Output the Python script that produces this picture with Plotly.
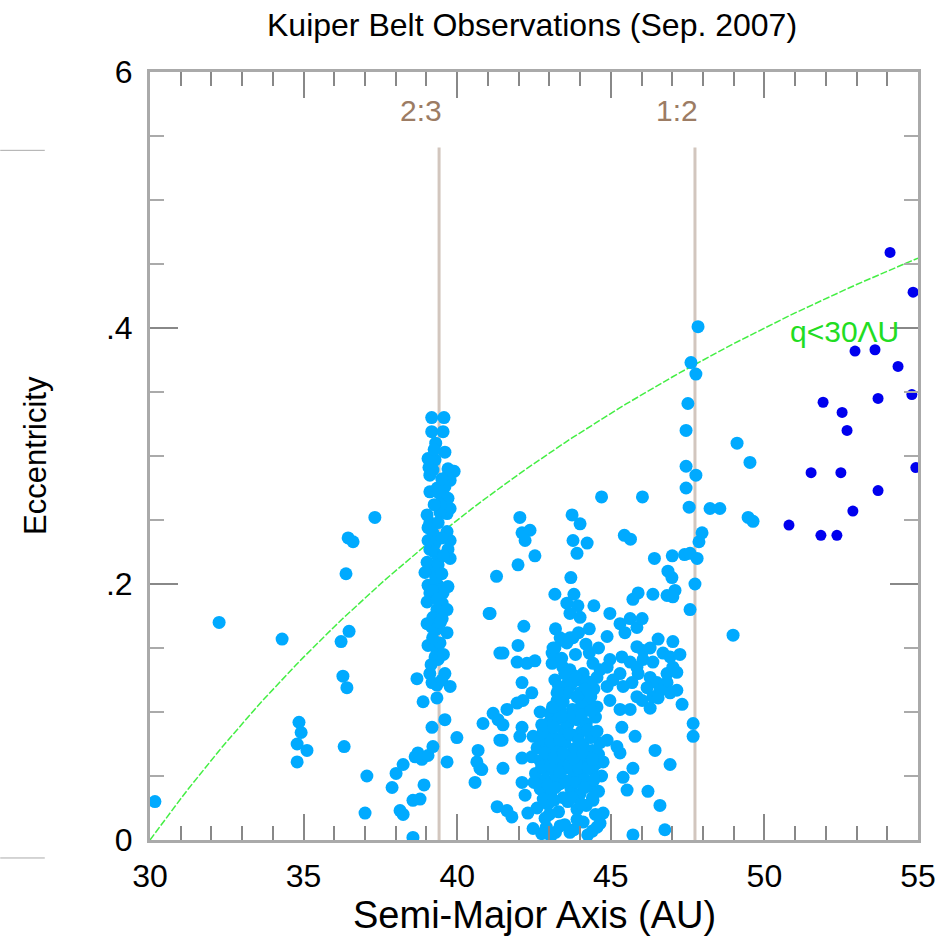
import plotly.graph_objects as go

# Kuiper belt objects: (semi-major axis [AU], eccentricity)
inner_belt = [
    (30.16, 0.030), (32.25, 0.170), (34.30, 0.157), (34.85, 0.092), (34.92, 0.084),
    (34.79, 0.075), (35.11, 0.070), (34.79, 0.061), (36.32, 0.073), (36.22, 0.155),
    (36.48, 0.163), (36.28, 0.128), (36.41, 0.119), (36.38, 0.208), (36.45, 0.236),
    (36.61, 0.233), (37.32, 0.252), (37.06, 0.050), (37.00, 0.021), (37.88, 0.041),
    (38.01, 0.052), (38.24, 0.059), (38.14, 0.023), (38.24, 0.020), (38.56, 0.031),
    (38.79, 0.032), (38.92, 0.043), (38.63, 0.065), (38.72, 0.068), (38.85, 0.063),
    (38.56, 0.002),
]

plutinos = [
    (39.05, 0.066), (39.21, 0.073), (39.18, 0.088), (38.69, 0.126), (38.89, 0.108),
    (39.34, 0.111), (39.60, 0.094), (39.67, 0.061), (39.17, 0.330), (39.57, 0.330),
    (39.17, 0.319), (39.54, 0.319), (39.60, 0.303), (39.05, 0.298), (39.28, 0.297),
    (39.08, 0.291), (39.21, 0.289), (39.11, 0.285), (39.70, 0.290), (39.90, 0.288),
    (39.67, 0.284), (39.77, 0.281), (39.60, 0.276), (39.11, 0.272), (39.41, 0.271),
    (39.70, 0.267), (39.77, 0.259), (39.67, 0.255), (39.44, 0.256), (39.02, 0.254),
    (39.11, 0.248), (39.38, 0.248), (39.05, 0.244), (39.21, 0.240), (39.67, 0.241),
    (39.77, 0.234), (39.05, 0.234), (39.28, 0.232), (39.70, 0.227), (39.11, 0.227),
    (39.77, 0.220), (39.38, 0.221), (39.02, 0.217), (39.11, 0.211), (38.95, 0.209),
    (39.38, 0.215), (39.05, 0.199), (39.38, 0.199), (39.70, 0.198), (39.11, 0.193),
    (39.54, 0.193), (39.02, 0.186), (39.51, 0.185), (39.34, 0.180), (39.67, 0.180),
    (39.21, 0.174), (39.51, 0.173), (39.02, 0.169), (39.18, 0.166), (39.34, 0.165),
    (39.67, 0.162), (39.05, 0.152), (39.28, 0.151), (39.44, 0.154), (39.28, 0.143),
    (39.38, 0.141), (39.11, 0.130), (39.60, 0.130), (39.18, 0.123), (39.77, 0.120),
    (39.34, 0.121), (39.99, 0.080), (39.30, 0.310), (39.45, 0.262), (39.25, 0.262),
    (39.50, 0.236), (39.30, 0.205), (39.50, 0.208), (39.20, 0.195), (39.45, 0.170),
    (39.20, 0.158), (39.55, 0.145), (39.15, 0.137), (39.50, 0.125), (39.35, 0.275),
    (39.50, 0.282), (39.25, 0.225), (39.55, 0.222), (39.35, 0.188), (39.25, 0.305),
]

mid_belt = [
    (41.28, 0.206), (41.07, 0.177), (41.39, 0.146), (41.17, 0.099), (40.84, 0.091),
    (41.39, 0.078), (40.68, 0.070), (40.74, 0.056), (40.58, 0.045), (41.30, 0.026),
    (40.64, 0.061), (40.80, 0.055), (41.62, 0.023), (41.78, 0.018), (41.49, 0.056),
    (41.46, 0.078), (41.33, 0.094), (41.49, 0.090), (41.62, 0.102), (41.95, 0.107),
    (42.14, 0.109), (42.11, 0.123), (42.43, 0.115), (41.04, 0.177), (41.49, 0.146),
    (41.98, 0.152), (41.98, 0.215),
]

hot_classical = [
    (44.70, 0.268), (46.03, 0.268), (42.04, 0.252), (43.74, 0.254), (44.00, 0.247),
    (42.11, 0.240), (42.37, 0.242), (42.21, 0.234), (43.77, 0.234), (44.23, 0.232),
    (43.90, 0.224), (42.53, 0.222), (45.44, 0.238), (45.64, 0.235), (46.42, 0.220),
    (47.00, 0.222), (43.70, 0.205), (46.86, 0.210), (46.99, 0.205), (43.18, 0.192),
    (43.80, 0.192), (43.57, 0.185), (43.93, 0.183), (43.67, 0.177), (44.00, 0.174),
    (44.45, 0.183), (44.97, 0.177), (45.89, 0.193), (45.72, 0.188), (46.37, 0.192),
    (46.83, 0.191), (47.09, 0.195), (47.02, 0.190), (42.17, 0.167), (45.30, 0.169),
    (45.46, 0.162), (45.63, 0.173), (45.85, 0.166), (46.02, 0.173), (44.88, 0.159),
    (46.54, 0.157), (47.02, 0.155), (44.19, 0.153), (43.41, 0.156), (43.18, 0.150),
    (43.57, 0.154), (43.77, 0.158), (43.09, 0.146), (41.95, 0.139), (42.27, 0.138),
    (42.53, 0.140), (48.23, 0.259), (48.55, 0.259), (49.47, 0.252), (49.63, 0.249),
    (49.11, 0.310), (49.53, 0.295), (48.98, 0.160),
]

outer_classical = [
    (45.85, 0.151), (46.05, 0.148), (46.28, 0.150), (45.36, 0.143), (45.63, 0.139),
    (45.85, 0.135), (46.05, 0.141), (46.37, 0.139), (46.70, 0.146), (46.93, 0.143),
    (47.25, 0.145), (47.02, 0.135), (46.83, 0.130), (47.15, 0.131), (46.28, 0.127),
    (46.50, 0.123), (46.83, 0.123), (46.60, 0.117), (47.15, 0.117), (45.89, 0.130),
    (45.69, 0.123), (46.18, 0.119), (46.37, 0.112), (45.85, 0.112), (45.40, 0.120),
    (45.07, 0.125), (45.30, 0.130), (44.88, 0.135), (44.65, 0.133), (44.97, 0.141),
    (44.42, 0.138), (44.55, 0.127), (44.88, 0.120), (44.32, 0.123), (44.10, 0.130),
    (43.90, 0.125), (43.67, 0.133), (43.44, 0.135), (43.61, 0.123), (44.00, 0.115),
    (44.23, 0.109), (44.55, 0.104), (44.97, 0.109), (45.30, 0.102), (45.63, 0.102),
    (46.02, 0.109), (46.28, 0.103), (46.54, 0.111), (46.93, 0.115), (47.32, 0.106),
    (43.35, 0.158), (43.67, 0.158), (43.12, 0.150), (43.09, 0.138), (43.18, 0.125),
    (43.28, 0.107), (42.70, 0.100), (43.12, 0.096),
    (43.40, 0.142), (43.85, 0.145), (44.30, 0.146), (44.60, 0.150), (43.95, 0.162),
    (44.30, 0.165), (43.20, 0.165), (44.20, 0.124), (43.70, 0.121), (44.45, 0.118),
]

cold_classical = [
    (43.02, 0.099), (43.35, 0.102), (43.25, 0.109), (43.02, 0.088), (42.70, 0.078),
    (42.11, 0.088), (42.04, 0.081), (42.47, 0.081), (42.79, 0.084), (42.11, 0.064),
    (42.43, 0.065), (42.11, 0.045), (42.21, 0.035), (42.47, 0.009), (42.30, 0.021),
    (42.86, 0.017), (45.36, 0.088), (45.79, 0.081), (46.44, 0.070), (46.93, 0.059),
    (45.40, 0.049), (45.53, 0.039), (46.21, 0.038), (45.72, 0.056), (46.60, 0.027),
    (46.76, 0.008), (45.72, 0.004), (44.65, 0.013), (44.75, 0.021), (44.42, 0.031),
    (44.88, 0.078), (45.20, 0.073), (45.30, 0.068), (44.75, 0.061), (43.35, 0.011),
    (43.67, 0.006),
    (42.90, 0.010), (43.20, 0.006), (43.50, 0.012), (43.80, 0.008), (44.10, 0.014),
    (44.40, 0.007), (43.00, 0.020), (42.60, 0.025), (42.95, 0.028), (43.30, 0.022),
    (43.60, 0.030), (43.90, 0.024), (44.20, 0.027), (44.50, 0.020), (43.45, 0.033),
    (42.70, 0.040), (43.05, 0.037), (43.35, 0.044), (43.70, 0.040), (44.00, 0.036),
    (44.30, 0.042), (44.60, 0.038), (42.85, 0.047), (42.55, 0.052), (42.90, 0.055),
    (43.20, 0.050), (43.50, 0.056), (43.80, 0.052), (44.10, 0.049), (44.40, 0.055),
    (44.70, 0.050), (42.70, 0.062), (43.00, 0.065), (43.35, 0.060), (43.65, 0.066),
    (43.95, 0.061), (44.25, 0.064), (44.55, 0.060), (42.60, 0.072), (42.90, 0.075),
    (43.20, 0.070), (43.50, 0.076), (43.80, 0.071), (44.10, 0.074), (44.40, 0.070),
    (44.65, 0.076), (42.85, 0.083), (43.15, 0.080), (43.45, 0.086), (43.75, 0.082),
    (44.05, 0.085), (44.35, 0.080), (43.00, 0.092), (43.30, 0.095), (43.60, 0.090),
    (43.90, 0.094), (44.20, 0.091), (44.50, 0.096), (43.10, 0.104), (43.45, 0.108),
    (43.75, 0.102), (44.05, 0.106), (44.35, 0.112), (43.60, 0.115), (43.30, 0.120),
    (43.85, 0.128), (44.15, 0.118), (43.50, 0.130),
    (42.75, 0.005), (43.05, 0.003), (43.90, 0.016), (44.25, 0.004), (44.55, 0.010),
    (42.80, 0.032), (43.15, 0.031), (43.75, 0.033), (44.05, 0.028), (44.40, 0.033),
    (42.50, 0.045), (42.95, 0.043), (43.20, 0.041), (43.55, 0.046), (43.85, 0.045),
    (44.15, 0.041), (44.45, 0.047), (42.75, 0.057), (43.05, 0.058), (43.35, 0.053),
    (43.65, 0.058), (43.95, 0.056), (44.25, 0.057), (44.60, 0.067), (42.85, 0.068),
    (43.15, 0.064), (43.45, 0.068), (43.80, 0.064), (44.10, 0.067), (44.40, 0.063),
    (42.75, 0.090), (43.05, 0.077), (43.35, 0.078), (43.65, 0.083), (43.95, 0.078),
    (44.25, 0.086), (44.55, 0.085), (43.15, 0.088), (43.45, 0.097), (43.75, 0.096),
    (44.05, 0.098), (44.35, 0.101), (43.25, 0.115), (43.90, 0.112),
]

twotinos = [
    (47.84, 0.401), (47.61, 0.373), (47.77, 0.364), (47.51, 0.341), (47.45, 0.320),
    (47.45, 0.292), (47.77, 0.285), (47.45, 0.275), (47.55, 0.260), (47.97, 0.240),
    (47.87, 0.233), (47.40, 0.223), (47.58, 0.224), (47.81, 0.220), (47.74, 0.200),
    (47.58, 0.180), (47.68, 0.091), (47.68, 0.081),
]

scattered_disk = [
    (54.09, 0.459), (54.84, 0.428), (52.95, 0.382), (53.60, 0.383), (54.35, 0.370),
    (54.80, 0.348), (53.70, 0.345), (51.91, 0.342), (52.53, 0.334), (52.69, 0.320),
    (54.93, 0.291), (51.52, 0.287), (52.49, 0.287), (53.70, 0.273), (52.88, 0.257),
    (50.80, 0.246), (51.84, 0.238), (52.36, 0.238),
]

# Mean-motion resonances with Neptune
resonances = [("2:3", 39.41), ("1:2", 47.74)]
resonance_top = 0.541

# Perihelion limit q = a(1 - e) = 30 AU
perihelion_q = 30.0
curve_a = [30 + 0.25 * i for i in range(101)]
curve_e = [1 - perihelion_q / a for a in curve_a]

x_ticks = [30, 35, 40, 45, 50, 55]
y_ticks = [0, 0.2, 0.4, 0.6]
y_ticktext = ["0", ".2", ".4", "6"]

FONT = "Liberation Sans, Arial, sans-serif"
LIGHT = "#00aaff"
DARK = "#0000ee"

fig = go.Figure()

for name, a_res in resonances:
    fig.add_shape(type="line", x0=a_res, x1=a_res, y0=0, y1=resonance_top,
                  xref="x", yref="y", line=dict(color="#d2c6be", width=3), layer="below")
    fig.add_annotation(x=a_res - 0.6, y=0.570, text=name, showarrow=False,
                       xanchor="center", yanchor="middle",
                       font=dict(family=FONT, size=30, color="#9c7c64"))

fig.add_trace(go.Scatter(x=curve_a, y=curve_e, mode="lines",
                         line=dict(color="#44ee44", width=1.5, dash="7px,2px"), hoverinfo="skip"))

light_groups = inner_belt + plutinos + mid_belt + hot_classical + outer_classical + cold_classical + twotinos
fig.add_trace(go.Scatter(
    x=[p[0] for p in light_groups], y=[p[1] for p in light_groups], mode="markers",
    marker=dict(color=LIGHT, size=13, line=dict(width=0)),
))
fig.add_trace(go.Scatter(
    x=[p[0] for p in scattered_disk], y=[p[1] for p in scattered_disk], mode="markers",
    marker=dict(color=DARK, size=11, line=dict(width=0)),
))

fig.add_annotation(x=52.6, y=0.397, text="q<30ΛU", showarrow=False,
                   xanchor="center", yanchor="middle",
                   font=dict(family=FONT, size=30, color="#22dd22"))

# Titles
fig.add_annotation(xref="paper", yref="paper", x=0.497, y=1.061, text="Kuiper Belt Observations (Sep. 2007)",
                   showarrow=False, xanchor="center", yanchor="middle",
                   font=dict(family=FONT, size=32, color="black"))
fig.add_annotation(xref="paper", yref="paper", x=0.501, y=-0.098, text="Semi-Major Axis (AU)",
                   showarrow=False, xanchor="center", yanchor="middle",
                   font=dict(family=FONT, size=38, color="black"))
fig.add_annotation(xref="paper", yref="paper", x=-0.150, y=0.501, text="Eccentricity", textangle=-90,
                   showarrow=False, xanchor="center", yanchor="middle",
                   font=dict(family=FONT, size=31, color="black"))

# Stray frame marks to the left of the plot
for yp in (0.898, -0.0234):
    fig.add_shape(type="line", xref="paper", yref="paper", x0=-0.195, x1=-0.137, y0=yp, y1=yp,
                  line=dict(color="#aaaaaa", width=1))

axis_common = dict(showgrid=False, zeroline=False, showline=True, linecolor="#aaaaaa", linewidth=3,
                   mirror="ticks", ticks="inside", tickcolor="#888888", tickwidth=2,
                   tickfont=dict(family=FONT, size=32, color="black"))

fig.update_xaxes(range=[30, 55], tickvals=x_ticks, ticklen=26, ticklabelstandoff=6,
                 minor=dict(tick0=30, dtick=1, ticks="inside", ticklen=14, tickcolor="#888888", tickwidth=2),
                 **axis_common)
fig.update_yaxes(range=[0, 0.6], tickvals=y_ticks, ticktext=y_ticktext, ticklen=28, ticklabelstandoff=8,
                 minor=dict(tick0=0, dtick=0.05, ticks="inside", ticklen=14, tickcolor="#aaaaaa", tickwidth=2),
                 **axis_common)

fig.update_layout(width=950, height=939, margin=dict(l=150, r=32, t=72, b=99),
                  plot_bgcolor="white", paper_bgcolor="white", showlegend=False)

fig.write_html("out.html")
